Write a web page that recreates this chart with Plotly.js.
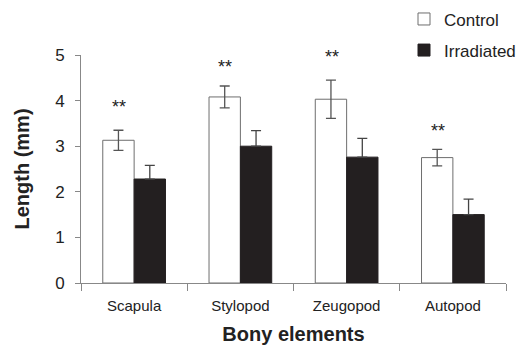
<!DOCTYPE html>
<html><head><meta charset="utf-8">
<script src="https://cdn.plot.ly/plotly-3.0.1.min.js"></script>
<style>html,body{margin:0;padding:0;background:#fff}#chart{width:523px;height:345px}</style>
</head><body><div id="chart"></div>
<script>
const categories = ["Scapula", "Stylopod", "Zeugopod", "Autopod"];
const controlValues = [3.13, 4.08, 4.03, 2.75];
const controlErrors = [0.22, 0.24, 0.42, 0.18];
const irradiatedValues = [2.28, 3.0, 2.76, 1.5];
const irradiatedErrors = [0.3, 0.34, 0.41, 0.34];
const irradiatedErrorsBelow = [0, 0, 0, 0];
const starLabels = ["**", "**", "**", "**"];
const starLevels = [3.85, 4.74, 4.95, 3.33];

const font = "Arial, 'Liberation Sans', sans-serif";

const traces = [
  {
    type: "bar", name: "Control", x: categories, y: controlValues,
    legendgroup: "a",
    marker: {color: "#ffffff", line: {color: "#6e6e6e", width: 1}},
    error_y: {type: "data", array: controlErrors, visible: true, color: "#555", thickness: 1.3, width: 5}
  },
  {
    type: "bar", name: "Irradiated", x: categories, y: irradiatedValues,
    legendgroup: "b",
    marker: {color: "#231f20", line: {color: "#231f20", width: 1}},
    error_y: {type: "data", symmetric: false, array: irradiatedErrors, arrayminus: irradiatedErrorsBelow,
              visible: true, color: "#444", thickness: 1.3, width: 5}
  }
];

const annotations = categories.map((c, i) => ({
  x: c, y: starLevels[i], xref: "x", yref: "y", text: starLabels[i],
  showarrow: false, xshift: -15, font: {family: font, size: 18, color: "#222"}
}));

const layout = {
  width: 523, height: 345,
  margin: {l: 81, r: 2, t: 52, b: 62},
  paper_bgcolor: "#fff", plot_bgcolor: "#fff",
  font: {family: font, color: "#222"},
  barmode: "group", bargap: 0.41, bargroupgap: 0,
  showlegend: true,
  legend: {x: 0.76, y: 1.235, xanchor: "left", yanchor: "top", traceorder: "grouped",
           tracegroupgap: 6, font: {family: font, size: 17, color: "#222"}, bgcolor: "rgba(0,0,0,0)"},
  xaxis: {
    showline: true, linecolor: "#888", linewidth: 1,
    ticks: "outside", tickson: "boundaries", ticklen: 7, tickcolor: "#888",
    ticklabelstandoff: 9,
    tickfont: {family: font, size: 15, color: "#222"},
    title: {text: "<b>Bony elements</b>", font: {family: font, size: 20, color: "#222"}, standoff: 13},
    showgrid: false, zeroline: false
  },
  yaxis: {
    range: [0, 5], dtick: 1, showline: true, linecolor: "#888", linewidth: 1,
    ticks: "outside", ticklen: 5, tickcolor: "#888",
    ticklabelstandoff: 7,
    tickfont: {family: font, size: 17, color: "#222"},
    title: {text: "<b>Length (mm)</b>", font: {family: font, size: 20, color: "#222"}, standoff: 20},
    showgrid: false, zeroline: false
  },
  annotations: annotations
};

Plotly.newPlot("chart", traces, layout, {displayModeBar: false, staticPlot: true});
</script></body></html>
